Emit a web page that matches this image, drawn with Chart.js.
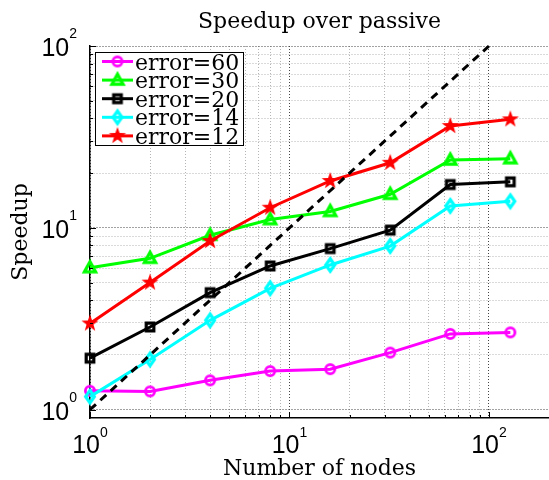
<!DOCTYPE html>
<html>
<head>
<meta charset="utf-8">
<script src="https://cdn.jsdelivr.net/npm/chart.js@4.4.0/dist/chart.umd.min.js"></script>
<style>
  body { margin: 0; background: #ffffff; }
</style>
</head>
<body>
<canvas id="graphCanvas" width="549" height="480"></canvas>
<script>
// values
var nodes = [1, 2, 4, 8, 16, 32, 64, 128];
var err60 = [1.27, 1.26, 1.45, 1.63, 1.67, 2.06, 2.61, 2.66];
var err30 = [6.04, 6.8, 9.1, 11.1, 12.3, 15.3, 23.6, 24.0];
var err20 = [1.92, 2.85, 4.4, 6.17, 7.69, 9.72, 17.3, 17.9];
var err14 = [1.18, 1.89, 3.1, 4.65, 6.25, 7.94, 13.2, 14.0];
var err12 = [2.98, 5.0, 8.46, 12.9, 18.1, 22.8, 36.3, 39.5];
var idealX = [1, 100];
var idealY = [1, 100];

var seriesLabels = ['error=60', 'error=30', 'error=20', 'error=14', 'error=12'];
var majorTicks = [1, 10, 100];
var tickExps = ['0', '1', '2'];

var serifFont = '"DejaVu Serif", serif';
var sansFont = '"Liberation Sans", Arial, sans-serif';

function toPoints(xs, ys) {
  var pts = [];
  for (var i = 0; i < xs.length; i++) {
    pts.push({ x: xs[i], y: ys[i] });
  }
  return pts;
}

// 1..9, 10..90, 100 for the log grid
function logTicks() {
  var t = [];
  for (var d = 0; d < majorTicks.length - 1; d++) {
    for (var k = 1; k < 10; k++) {
      t.push({ value: majorTicks[d] * k, major: k === 1 });
    }
  }
  t.push({ value: majorTicks[majorTicks.length - 1], major: true });
  return t;
}

function makeMarker(shape, color) {
  var c = document.createElement('canvas');
  c.width = 22;
  c.height = 22;
  var g = c.getContext('2d');
  g.translate(11, 11);
  g.strokeStyle = color;
  g.fillStyle = color;
  g.lineWidth = 3.2;
  g.lineJoin = 'miter';
  g.beginPath();
  if (shape === 'circle') {
    g.lineWidth = 2.8;
    g.arc(0, 0, 4.6, 0, Math.PI * 2);
    g.stroke();
  } else if (shape === 'triangle') {
    g.moveTo(0, -6);
    g.lineTo(5.6, 4.2);
    g.lineTo(-5.6, 4.2);
    g.closePath();
    g.stroke();
  } else if (shape === 'square') {
    g.rect(-3.8, -3.8, 7.6, 7.6);
    g.stroke();
  } else if (shape === 'diamond') {
    g.moveTo(0, -6.2);
    g.lineTo(4.4, 0);
    g.lineTo(0, 6.2);
    g.lineTo(-4.4, 0);
    g.closePath();
    g.stroke();
  } else if (shape === 'star') {
    var R = 9, r = 3.6;
    for (var i = 0; i < 10; i++) {
      var a = -Math.PI / 2 + i * Math.PI / 5;
      var rr = i % 2 === 0 ? R : r;
      if (i === 0) g.moveTo(rr * Math.cos(a), rr * Math.sin(a));
      else g.lineTo(rr * Math.cos(a), rr * Math.sin(a));
    }
    g.closePath();
    g.fill();
  }
  return c;
}

var colors = ['#ff00ff', '#00ff00', '#000000', '#00ffff', '#ff0000'];
var markers = [
  makeMarker('circle', colors[0]),
  makeMarker('triangle', colors[1]),
  makeMarker('square', colors[2]),
  makeMarker('diamond', colors[3]),
  makeMarker('star', colors[4])
];
var seriesData = [err60, err30, err20, err14, err12];

var datasets = [];
for (var s = 0; s < seriesData.length; s++) {
  datasets.push({
    label: seriesLabels[s],
    data: toPoints(nodes, seriesData[s]),
    borderColor: colors[s],
    borderWidth: 3,
    pointStyle: markers[s],
    pointRadius: 6,
    tension: 0,
    fill: false,
    clip: false,
    order: seriesData.length - s
  });
}
datasets.push({
  label: 'ideal',
  data: toPoints(idealX, idealY),
  borderColor: '#000000',
  borderWidth: 3,
  borderDash: [8, 6],
  pointRadius: 0,
  tension: 0,
  fill: false,
  clip: false,
  order: 0
});

var decor = {
  id: 'decor',
  afterDraw: function (chart) {
    var ctx = chart.ctx;
    var xs = chart.scales.x, ys = chart.scales.y, area = chart.chartArea;
    ctx.save();

    // inward tick marks
    ctx.strokeStyle = '#000';
    ctx.lineWidth = 1;
    xs.ticks.forEach(function (t) {
      var px = Math.round(xs.getPixelForValue(t.value)) + 0.5;
      var len = t.major ? 6 : 3;
      ctx.beginPath();
      ctx.moveTo(px, area.bottom);
      ctx.lineTo(px, area.bottom - len);
      ctx.stroke();
    });
    ys.ticks.forEach(function (t) {
      var py = Math.round(ys.getPixelForValue(t.value)) + 0.5;
      var len = t.major ? 6 : 3;
      ctx.beginPath();
      ctx.moveTo(area.left, py);
      ctx.lineTo(area.left + len, py);
      ctx.stroke();
    });

    // tick labels 10^n
    ctx.fillStyle = '#000';
    ctx.textBaseline = 'alphabetic';
    majorTicks.forEach(function (v, i) {
      ctx.font = '25px ' + sansFont;
      var w1 = ctx.measureText('10').width;
      ctx.font = '14px ' + sansFont;
      var w2 = ctx.measureText(tickExps[i]).width;

      var px = xs.getPixelForValue(v);
      var left = px - (w1 + w2) / 2;
      ctx.textAlign = 'left';
      ctx.font = '25px ' + sansFont;
      ctx.fillText('10', left, 453);
      ctx.font = '14px ' + sansFont;
      ctx.fillText(tickExps[i], left + w1, 437);

      var py = ys.getPixelForValue(v);
      var right = area.left - 13;
      ctx.textAlign = 'right';
      ctx.font = '14px ' + sansFont;
      ctx.fillText(tickExps[i], right, py - 8);
      ctx.font = '25px ' + sansFont;
      ctx.fillText('10', right - w2, py + 10);
    });

    // titles
    ctx.font = '22px ' + serifFont;
    ctx.textAlign = 'center';
    ctx.fillText('Speedup over passive', (area.left + area.right) / 2, 28);
    ctx.fillText('Number of nodes', (area.left + area.right) / 2, 475);
    ctx.save();
    ctx.translate(27, 232);
    ctx.rotate(-Math.PI / 2);
    ctx.fillText('Speedup', 0, 0);
    ctx.restore();

    // legend
    var bx = 95.5, by = 52.5, bw = 148, bh = 93;
    ctx.fillStyle = '#fff';
    ctx.fillRect(bx, by, bw, bh);
    ctx.strokeStyle = '#000';
    ctx.lineWidth = 1;
    ctx.strokeRect(bx, by, bw, bh);
    for (var i = 0; i < seriesLabels.length; i++) {
      var ly = 61.5 + i * 18.6;
      ctx.strokeStyle = colors[i];
      ctx.lineWidth = 3;
      ctx.beginPath();
      ctx.moveTo(102, ly);
      ctx.lineTo(133, ly);
      ctx.stroke();
      var m = markers[i];
      ctx.drawImage(m, 117.5 - m.width / 2, ly - m.height / 2);
      ctx.fillStyle = '#000';
      ctx.textAlign = 'left';
      ctx.font = '22px ' + serifFont;
      ctx.fillText(seriesLabels[i], 135, ly + 8);
    }
    ctx.restore();
  }
};

function gridColor(c) {
  return c.tick && c.tick.major ? '#444444' : '#b4b4b4';
}

new Chart(document.getElementById('graphCanvas'), {
  type: 'line',
  data: { datasets: datasets },
  options: {
    responsive: false,
    animation: false,
    devicePixelRatio: 1,
    layout: { autoPadding: false, padding: { left: 90, top: 46, right: 0, bottom: 62 } },
    plugins: { legend: { display: false }, tooltip: { enabled: false }, title: { display: false } },
    scales: {
      x: {
        type: 'logarithmic',
        min: 1,
        max: 200,
        afterBuildTicks: function (scale) { scale.ticks = logTicks(); },
        ticks: { display: false },
        grid: { color: gridColor, lineWidth: 1, drawTicks: false },
        border: { display: true, color: '#000', width: 1.5, dash: [1, 2] }
      },
      y: {
        type: 'logarithmic',
        min: 0.9,
        max: 100,
        afterBuildTicks: function (scale) { scale.ticks = logTicks(); },
        ticks: { display: false },
        grid: { color: gridColor, lineWidth: 1, drawTicks: false },
        border: { display: true, color: '#000', width: 1.5, dash: [1, 2] }
      }
    }
  },
  plugins: [decor]
});
</script>
</body>
</html>
